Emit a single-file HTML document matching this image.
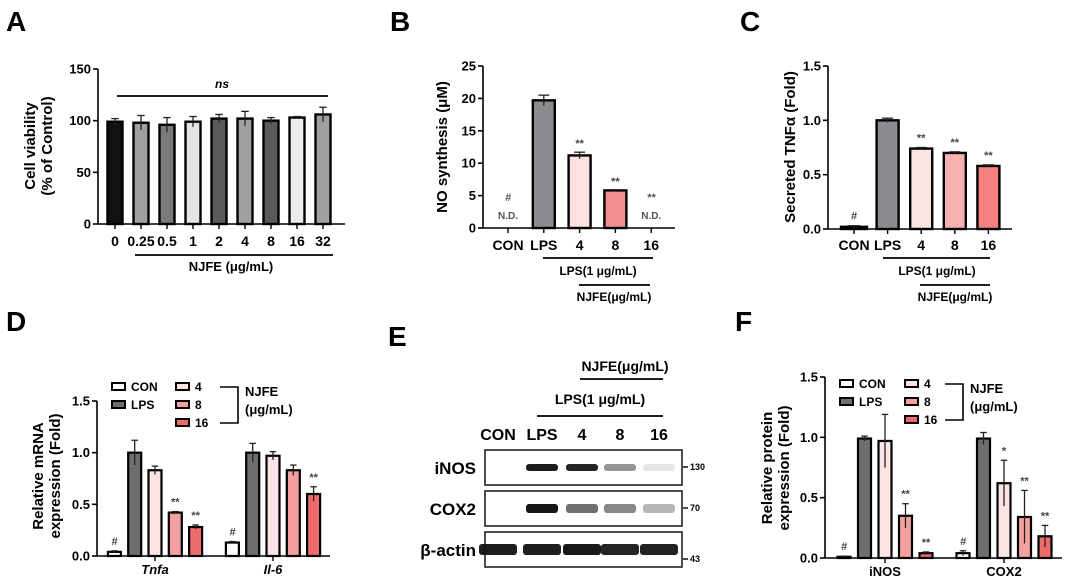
<!DOCTYPE html>
<html><head><meta charset="utf-8">
<style>
html,body{margin:0;padding:0;background:#fff;}
svg{display:block;font-family:"Liberation Sans",Arial,sans-serif;}
text{font-weight:bold;}
</style></head>
<body>
<svg id="fig" width="1065" height="580" viewBox="0 0 1065 580"></svg>
<script>
// ---------- data ----------
const aCats=['0','0.25','0.5','1','2','4','8','16','32'];
const aVals=[99,98,96,99,102,102,100,103,106];
const aErr=[3,7,7,5,4,7,3,1,7];
const aTicks=[0,50,100,150];

const bCats=['CON','LPS','4','8','16'];
const bVals=[0,19.7,11.2,5.8,0];
const bErr=[0,0.8,0.5,0.1,0];
const bMarks=['#','','**','**','**'];
const bND=[true,false,false,false,true];
const bTicks=[0,5,10,15,20,25];

const cCats=['CON','LPS','4','8','16'];
const cVals=[0.02,1.0,0.74,0.70,0.58];
const cErr=[0.01,0.02,0.01,0.01,0.01];
const cMarks=['#','','**','**','**'];
const cTicks=[0,0.5,1.0,1.5];

const dGroups=['Tnfa','Il-6'];
const dSeries=['CON','LPS','4','8','16'];
const dTnfa=[0.04,1.0,0.83,0.42,0.28];
const dTnfaErr=[0.01,0.12,0.04,0.01,0.02];
const dTnfaMarks=['#','','','**','**'];
const dIl6=[0.13,1.0,0.97,0.83,0.60];
const dIl6Err=[0.01,0.09,0.04,0.05,0.07];
const dIl6Marks=['#','','','','**'];
const dTicks=[0,0.5,1.0,1.5];

const fGroups=['iNOS','COX2'];
const fSeries=['CON','LPS','4','8','16'];
const fInos=[0.01,0.99,0.97,0.35,0.04];
const fInosErr=[0.005,0.02,0.22,0.10,0.01];
const fInosMarks=['#','','','**','**'];
const fCox=[0.04,0.99,0.62,0.34,0.18];
const fCoxErr=[0.02,0.05,0.19,0.22,0.09];
const fCoxMarks=['#','','*','**','**'];

const eLanes=['CON','LPS','4','8','16'];
const eInos=[0,0.95,0.92,0.45,0.1];
const eCox=[0,0.98,0.6,0.5,0.3];
const eActin=[0.95,0.95,0.97,0.92,0.93];

// ---------- helpers ----------
const NS='http://www.w3.org/2000/svg';
const svg=document.getElementById('fig');
function el(tag,attrs,parent){const e=document.createElementNS(NS,tag);for(const k in attrs)e.setAttribute(k,attrs[k]);(parent||svg).appendChild(e);return e;}
function txt(s,x,y,size,anchor,parent,extra){const t=el('text',Object.assign({x:x,y:y,'font-size':size,'text-anchor':anchor||'middle'},extra||{}),parent);t.textContent=s;return t;}

function axis(g,x0,x1,yTop,yBot,max,ticks,fmt){
  const ys=v=>yBot-(v/max)*(yBot-yTop);
  el('line',{x1:x0,y1:yTop,x2:x0,y2:yBot,stroke:'#000','stroke-width':1.6},g);
  el('line',{x1:x0,y1:yBot,x2:x1,y2:yBot,stroke:'#000','stroke-width':1.6},g);
  ticks.forEach(t=>{
    el('line',{x1:x0-5,y1:ys(t),x2:x0,y2:ys(t),stroke:'#000','stroke-width':1.6},g);
    const lb=txt(fmt(t),x0-7,ys(t)+4.5,13,'end',g);
    
    
  });
  return ys;
}
function bar(g,cx,w,v,err,ys,fill,yBot,sw){
  const top=ys(v);
  const r=el('rect',{x:cx-w/2,y:top,width:w,height:Math.max(yBot-top,0.5),fill:fill,stroke:'#000','stroke-width':sw||2.2},g);
  
  
  if(err>0){
    const e1=ys(v+err),e0=ys(Math.max(v-err,0));
    el('line',{x1:cx,y1:e0,x2:cx,y2:e1,stroke:'#222','stroke-width':1.3},g);
    el('line',{x1:cx-w/4,y1:e1,x2:cx+w/4,y2:e1,stroke:'#222','stroke-width':1.3},g);
  }
  return ys(v+err);
}
function ylabel(g,lines,x,y){
  lines.forEach((s,i)=>{const t=txt(s,0,0,15,'middle',g,{transform:`translate(${x+i*17},${y}) rotate(-90)`});
    
    });
}
function hline(g,x1,x2,y){el('line',{x1:x1,y1:y,x2:x2,y2:y,stroke:'#000','stroke-width':1.8},g);}
function panelLabel(s,x,y){const t=txt(s,x,y,28,'start');}

// ---------- Panel A ----------
panelLabel('A',6,31);
const gA=el('g',{});


const aYs=axis(gA,98,345,69,224,150,aTicks,t=>String(t));
const aFill=['#111','#a0a0a0','#7a7a7a','#e4e4e4','#5a5a5a','#a0a0a0','#5a5a5a','#ececec','#a0a0a0'];
const aX=i=>115+i*26;
aCats.forEach((c,i)=>{
  bar(gA,aX(i),15,aVals[i],aErr[i],aYs,aFill[i],224,2.4);
  el('line',{x1:aX(i),y1:224,x2:aX(i),y2:229,stroke:'#000','stroke-width':1.4},gA);
  const t=txt(c,aX(i),246,14,'middle',gA);
});
hline(gA,117,328,96);
txt('ns',222,88,12,'middle',gA,{'font-style':'italic'});
hline(gA,135,333,255);
txt('NJFE (μg/mL)',231,271,13,'middle',gA);
ylabel(gA,['Cell viability','(% of Control)'],35,146);

// ---------- Panel B ----------
panelLabel('B',390,31);
const gB=el('g',{});


const bYs=axis(gB,483,675,66,228,25,bTicks,t=>String(t));
const bFill=['#fff','#8c8c90','#fde0e0','#f29090','#fff'];
const bX=i=>508+i*35.8;
bCats.forEach((c,i)=>{
  const top=bVals[i]>0?bar(gB,bX(i),22,bVals[i],bErr[i],bYs,bFill[i],228,2.4):228;
  el('line',{x1:bX(i),y1:228,x2:bX(i),y2:233,stroke:'#000','stroke-width':1.4},gB);
  const t=txt(c,bX(i),250,14,'middle',gB);
  if(bND[i]){txt('N.D.',bX(i),219,10,'middle',gB,{fill:'#555','font-weight':'normal'});
    txt(bMarks[i],bX(i),201,11,'middle',gB,{fill:'#555','font-style':'italic'});}
  else if(bMarks[i]) txt(bMarks[i],bX(i),top-5,11,'middle',gB,{fill:'#444'});
});
hline(gB,543,653,258);
txt('LPS(1 μg/mL)',598,275,12,'middle',gB,{'font-weight':'normal'});
hline(gB,579,650,285);
txt('NJFE(μg/mL)',614,301,12,'middle',gB,{'font-weight':'normal'});
ylabel(gB,['NO synthesis (μM)'],447,147);

// ---------- Panel C ----------
panelLabel('C',740,31);
const gC=el('g',{});


const cYs=axis(gC,828,1012,66,229,1.5,cTicks,t=>t.toFixed(1));
const cFill=['#fff','#8c8c90','#fde4e4','#f7b0b0','#f48080'];
const cX=i=>854+i*33.6;
cCats.forEach((c,i)=>{
  const top=bar(gC,cX(i),i===0?26:22,cVals[i],cErr[i],cYs,cFill[i],229,2.4);
  el('line',{x1:cX(i),y1:229,x2:cX(i),y2:234,stroke:'#000','stroke-width':1.4},gC);
  const t=txt(c,cX(i),250,14,'middle',gC);
  if(cMarks[i]) txt(cMarks[i],cX(i),top-6,11,'middle',gC,{fill:'#444'});
});
hline(gC,883,990,258);
txt('LPS(1 μg/mL)',937,275,12,'middle',gC,{'font-weight':'normal'});
hline(gC,920,990,285);
txt('NJFE(μg/mL)',955,301,12,'middle',gC,{'font-weight':'normal'});
ylabel(gC,['Secreted TNFα (Fold)'],795,147);

// ---------- grouped panels D & F ----------
const grpFill=['#fff','#6e6e6e','#fde4e4','#f4a0a0','#ee6b6b'];
function grouped(g,x0,x1,yTop,yBot,g0,gStep,sStep,groups,vals,errs,marks,italic){
  const ys=axis(g,x0,x1,yTop,yBot,1.5,dTicks,t=>t.toFixed(1));
  groups.forEach((gn,gi)=>{
    const gc=g0+gi*gStep;
    vals[gi].forEach((v,si)=>{
      const cx=gc+(si-2)*sStep;
      const top=bar(g,cx,13,v,errs[gi][si],ys,grpFill[si],yBot,2.2);
      if(marks[gi][si]) txt(marks[gi][si],cx,top-6,11,'middle',g,{fill:'#444','font-style':marks[gi][si]==='#'?'italic':'normal'});
    });
    el('line',{x1:gc,y1:yBot,x2:gc,y2:yBot+5,stroke:'#000','stroke-width':1.4},g);
    const t=txt(gn,gc,yBot+18,13,'middle',g,italic?{'font-style':'italic'}:{});
    
    
  });
}
function legend(g,x,y,dx,series,bx){
  series.forEach((s,i)=>{
    const col=i<2?0:1,row=i<2?i:i-2;
    const lx=x+col*dx,ly=y+row*18;
    const r=el('rect',{x:lx,y:ly-4,width:13,height:7,fill:grpFill[i],stroke:'#000','stroke-width':2},g);
    
    
    txt(s,lx+19,ly+4,12,'start',g);
  });
  el('polyline',{points:`${bx},${y} ${bx+18},${y} ${bx+18},${y+36} ${bx},${y+36}`,fill:'none',stroke:'#000','stroke-width':1.6},g);
  txt('NJFE',bx+25,y+9,13,'start',g);
  txt('(μg/mL)',bx+25,y+27,13,'start',g);
}
panelLabel('D',6,331);
const gD=el('g',{});


grouped(gD,97,330,401,556,155,118,20.3,dGroups,[dTnfa,dIl6],[dTnfaErr,dIl6Err],[dTnfaMarks,dIl6Marks],true);
legend(gD,112,387,64,dSeries,220);
ylabel(gD,['Relative mRNA','expression (Fold)'],43,476);

panelLabel('F',735,331);
const gF=el('g',{});


grouped(gF,825,1062,377,558,885,119,20.5,fGroups,[fInos,fCox],[fInosErr,fCoxErr],[fInosMarks,fCoxMarks],false);
legend(gF,840,384,65,fSeries,945);
ylabel(gF,['Relative protein','expression (Fold)'],772,468);

// ---------- Panel E (western blot) ----------
panelLabel('E',388,346);
const gE=el('g',{});


txt('NJFE(μg/mL)',625,371,14,'middle',gE);
hline(gE,580,663,379);
txt('LPS(1 μg/mL)',600,404,14,'middle',gE);
hline(gE,537,663,416);
const eX=[498,542,582,620,659];
eLanes.forEach((l,i)=>{const t=txt(l,eX[i],440,16,'middle',gE);});
const rows=[['iNOS',450,eInos,7,'130'],['COX2',491,eCox,9,'70'],['β-actin',532,eActin,11,'43']];
rows.forEach((r,ri)=>{
  const [name,y0,vals,bh,mw]=r;
  const box=el('rect',{x:485,y:y0,width:197,height:35,fill:'#fff',stroke:'#222','stroke-width':1.6},gE);
  
  
  txt(name,476,y0+24,17,'end',gE,{'font-weight':'normal'});
  vals.forEach((v,i)=>{
    if(v<=0) return;
    const w=ri===2?38:32;
    const b=el('rect',{x:eX[i]-w/2,y:y0+17.5-bh/2,width:w,height:bh,rx:3,fill:'#111','fill-opacity':v},gE);
    
    
  });
  const my=ri===2?y0+27:y0+17;
  el('line',{x1:683,y1:my,x2:688,y2:my,stroke:'#000','stroke-width':1.4},gE);
  txt(mw,690,my+3,9,'start',gE,{'font-weight':'normal'});
});
</script>
</body></html>
